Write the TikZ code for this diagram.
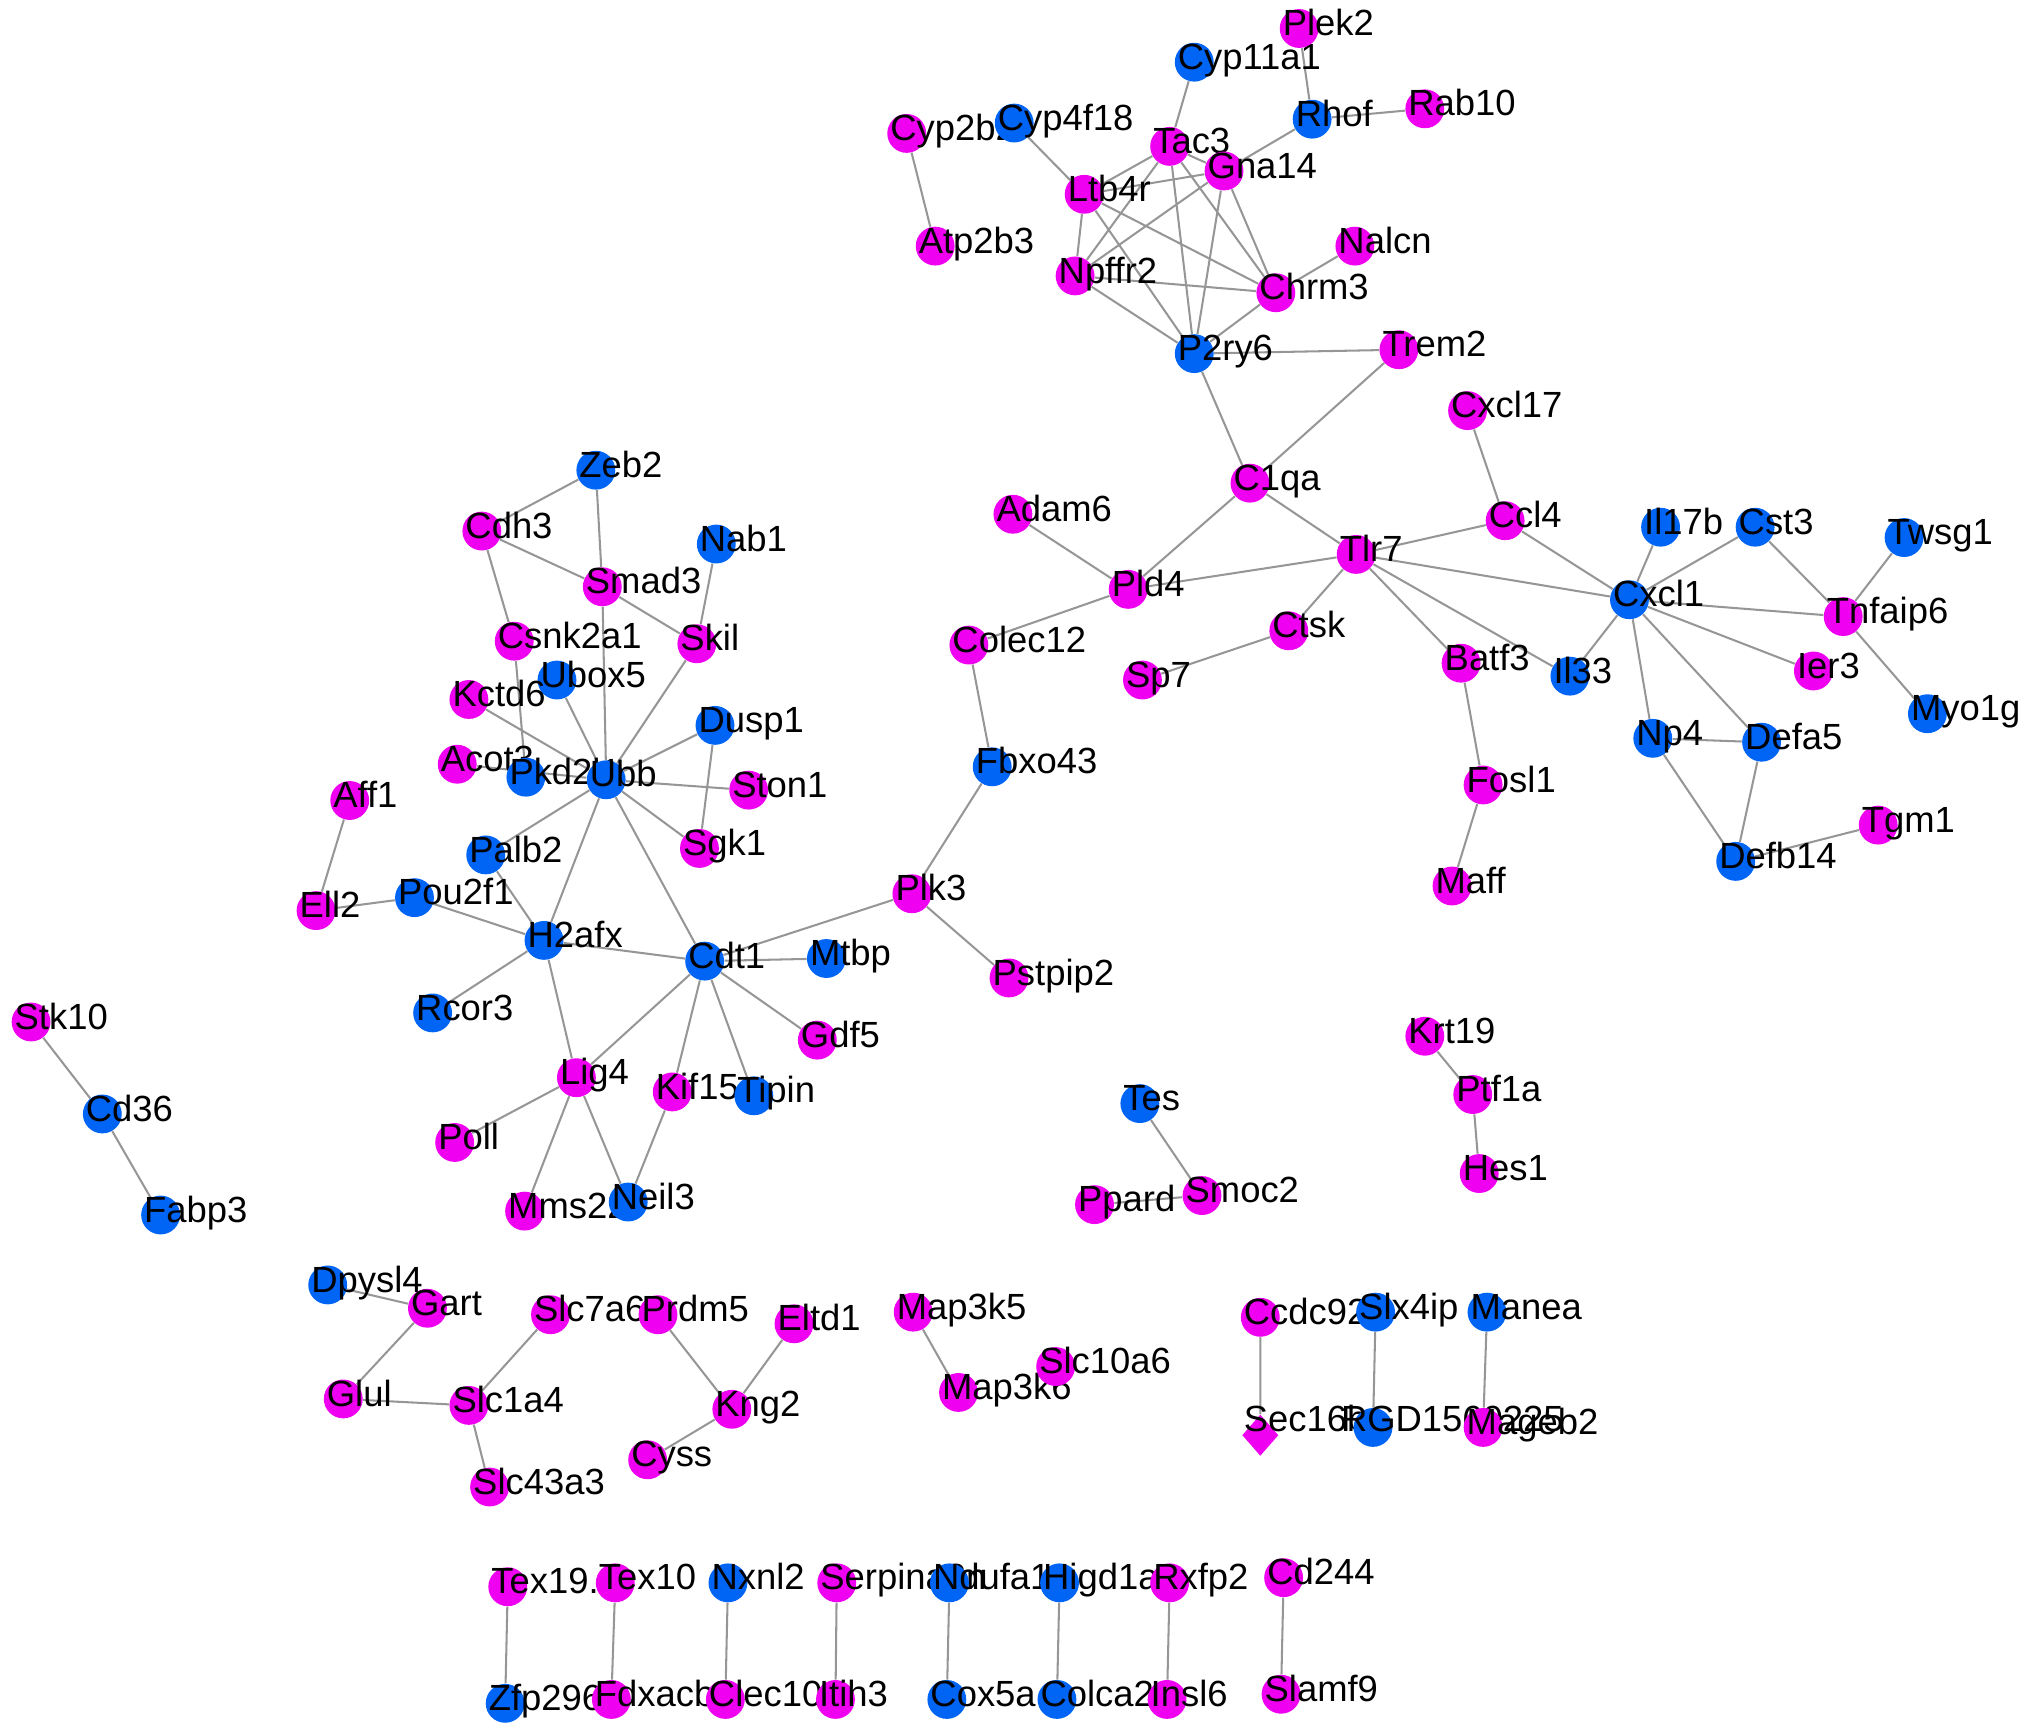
\documentclass[tikz,border=0pt]{standalone}
\usepackage{fontspec}
\setmainfont{Liberation Sans}
\usetikzlibrary{shapes.geometric}
\definecolor{mg}{RGB}{240,0,240}
\definecolor{bl}{RGB}{0,100,245}
\definecolor{ed}{RGB}{150,150,150}
\pgfdeclarelayer{bg}
\pgfsetlayers{bg,main}
\newcommand\gnd[5]{%
  \node[gnode,fill=#4] (#1) at (#2,-#3) {};
  \node[glabel] (#1-t) at (#2-13,-#3-5.5) {#5};}
\begin{document}
\begin{tikzpicture}[x=0.02cm,y=0.02cm,
  gnode/.style={circle,draw=none,minimum size=0.6cm,inner sep=0pt},
  glabel/.style={anchor=base west,inner sep=0pt,font=\fontsize{16}{18}\selectfont},
  gdiam/.style={diamond,fill=mg,draw=none,minimum width=0.56cm,minimum height=0.64cm,inner sep=0pt},
  edge/.style={draw=ed,line width=0.9pt}]
\useasboundingbox (0,0) rectangle (1568,-1340);
% top cluster
\gnd{Cyp2b2}{700}{103}{mg}{Cyp2b2}
\gnd{Atp2b3}{722}{190}{mg}{Atp2b3}
\gnd{Cyp4f18}{783}{95}{bl}{Cyp4f18}
\gnd{Npffr2}{830}{213}{mg}{Npffr2}
\gnd{Ltb4r}{837}{150}{mg}{Ltb4r}
\gnd{Tac3}{903}{113}{mg}{Tac3}
\gnd{Cyp11a1}{922}{48}{bl}{Cyp11a1}
\gnd{P2ry6}{922}{273}{bl}{P2ry6}
\gnd{Gna14}{945}{132}{mg}{Gna14}
\gnd{Chrm3}{985}{226}{mg}{Chrm3}
\gnd{Plek2}{1003}{22}{mg}{Plek2}
\gnd{Rhof}{1013}{92}{bl}{Rhof}
\gnd{Nalcn}{1046}{190}{mg}{Nalcn}
\gnd{Trem2}{1080}{270}{mg}{Trem2}
\gnd{Rab10}{1100}{84}{mg}{Rab10}
% middle right
\gnd{Colec12}{748}{498}{mg}{Colec12}
\gnd{Fbxo43}{766}{592}{bl}{Fbxo43}
\gnd{Adam6}{782}{397}{mg}{Adam6}
\gnd{Pld4}{871}{455}{mg}{Pld4}
\gnd{Sp7}{882}{525}{mg}{Sp7}
\gnd{C1qa}{965}{373}{mg}{C1qa}
\gnd{Ctsk}{995}{487}{mg}{Ctsk}
\gnd{Tlr7}{1047}{428}{mg}{Tlr7}
\gnd{Maff}{1121}{684}{mg}{Maff}
\gnd{Batf3}{1128}{512}{mg}{Batf3}
\gnd{Cxcl17}{1133}{317}{mg}{Cxcl17}
\gnd{Fosl1}{1145}{606}{mg}{Fosl1}
\gnd{Ccl4}{1162}{402}{mg}{Ccl4}
\gnd{Il33}{1212}{522}{bl}{Il33}
\gnd{Cxcl1}{1258}{463}{bl}{Cxcl1}
\gnd{Np4}{1276}{570}{bl}{Np4}
\gnd{Il17b}{1282}{407}{bl}{Il17b}
\gnd{Defb14}{1340}{665}{bl}{Defb14}
\gnd{Cst3}{1355}{407}{bl}{Cst3}
\gnd{Defa5}{1360}{573}{bl}{Defa5}
\gnd{Ier3}{1400}{518}{mg}{Ier3}
\gnd{Tnfaip6}{1423}{476}{mg}{Tnfaip6}
\gnd{Tgm1}{1450}{637}{mg}{Tgm1}
\gnd{Twsg1}{1470}{415}{bl}{Twsg1}
\gnd{Myo1g}{1488}{551}{bl}{Myo1g}
% left cluster
\gnd{Stk10}{24}{789}{mg}{Stk10}
\gnd{Cd36}{79}{860}{bl}{Cd36}
\gnd{Fabp3}{124}{938}{bl}{Fabp3}
\gnd{Ell2}{244}{703}{mg}{Ell2}
\gnd{Aff1}{270}{618}{mg}{Aff1}
\gnd{Pou2f1}{320}{693}{bl}{Pou2f1}
\gnd{Rcor3}{334}{782}{bl}{Rcor3}
\gnd{Poll}{351}{882}{mg}{Poll}
\gnd{Acot3}{353}{590}{mg}{Acot3}
\gnd{Cdh3}{372}{410}{mg}{Cdh3}
\gnd{Palb2}{375}{660}{bl}{Palb2}
\gnd{Csnk2a1}{397}{495}{mg}{Csnk2a1}
\gnd{Ubox5}{430}{525}{bl}{Ubox5}
\gnd{Kctd6}{362}{540}{mg}{Kctd6}
\gnd{Mms22l}{405}{935}{mg}{Mms22l}
\gnd{Pkd2l1}{406}{600}{bl}{Pkd2l1}
\gnd{H2afx}{420}{726}{bl}{H2afx}
\gnd{Lig4}{445}{832}{mg}{Lig4}
\gnd{Zeb2}{460}{363}{bl}{Zeb2}
\gnd{Smad3}{465}{453}{mg}{Smad3}
\gnd{Ubb}{468}{602}{bl}{Ubb}
\gnd{Neil3}{485}{928}{bl}{Neil3}
\gnd{Kif15}{519}{843}{mg}{Kif15}
\gnd{Skil}{538}{497}{mg}{Skil}
\gnd{Sgk1}{540}{655}{mg}{Sgk1}
\gnd{Cdt1}{544}{742}{bl}{Cdt1}
\gnd{Dusp1}{552}{560}{bl}{Dusp1}
\gnd{Nab1}{553}{420}{bl}{Nab1}
\gnd{Ston1}{578}{610}{mg}{Ston1}
\gnd{Tipin}{582}{846}{bl}{Tipin}
\gnd{Gdf5}{631}{803}{mg}{Gdf5}
\gnd{Mtbp}{638}{740}{bl}{Mtbp}
\gnd{Plk3}{704}{690}{mg}{Plk3}
\gnd{Pstpip2}{779}{755}{mg}{Pstpip2}
% small groups
\gnd{Ppard}{845}{930}{mg}{Ppard}
\gnd{Tes}{880}{852}{bl}{Tes}
\gnd{Smoc2}{928}{923}{mg}{Smoc2}
\gnd{Krt19}{1100}{800}{mg}{Krt19}
\gnd{Ptf1a}{1137}{845}{mg}{Ptf1a}
\gnd{Hes1}{1142}{906}{mg}{Hes1}
% bottom
\gnd{Dpysl4}{253}{992}{bl}{Dpysl4}
\gnd{Glul}{265}{1080}{mg}{Glul}
\gnd{Gart}{330}{1010}{mg}{Gart}
\gnd{Slc1a4}{362}{1085}{mg}{Slc1a4}
\gnd{Slc43a3}{378}{1148}{mg}{Slc43a3}
\gnd{Slc7a6}{425}{1015}{mg}{Slc7a6}
\gnd{Cyss}{500}{1127}{mg}{Cyss}
\gnd{Prdm5}{508}{1015}{mg}{Prdm5}
\gnd{Kng2}{565}{1088}{mg}{Kng2}
\gnd{Eltd1}{613}{1022}{mg}{Eltd1}
\gnd{Map3k5}{705}{1013}{mg}{Map3k5}
\gnd{Map3k6}{740}{1075}{mg}{Map3k6}
\gnd{Slc10a6}{815}{1055}{mg}{Slc10a6}
\gnd{Ccdc92}{973}{1017}{mg}{Ccdc92}
\node[gdiam] (Sec16b) at (973,-1108) {};
\node[glabel] (Sec16b-t) at (960,-1105.5) {Sec16b};
\node[gnode,fill=bl] (RGD1560225) at (1060,-1102) {};
\node[glabel] (RGD1560225-t) at (1035,-1105.5) {RGD1560225};
\gnd{Slx4ip}{1062}{1013}{bl}{Slx4ip}
\gnd{Manea}{1148}{1013}{bl}{Manea}
\gnd{Mageb2}{1145}{1102}{mg}{Mageb2}
% bottom row
\gnd{Tex191}{392}{1225}{mg}{Tex19.1}
\gnd{Zfp296}{390}{1315}{bl}{Zfp296}
\gnd{Tex10}{475}{1222}{mg}{Tex10}
\gnd{Fdxacb1}{472}{1312}{mg}{Fdxacb1}
\gnd{Nxnl2}{562}{1222}{bl}{Nxnl2}
\gnd{Clec10a}{560}{1312}{mg}{Clec10a}
\gnd{Serpina3n}{646}{1222}{mg}{Serpina3n}
\gnd{Itih3}{645}{1312}{mg}{Itih3}
\gnd{Ndufa11}{733}{1222}{bl}{Ndufa11}
\gnd{Cox5a}{731}{1312}{bl}{Cox5a}
\gnd{Higd1a}{818}{1222}{bl}{Higd1a}
\gnd{Colca2}{816}{1312}{bl}{Colca2}
\gnd{Rxfp2}{903}{1222}{mg}{Rxfp2}
\gnd{Insl6}{901}{1312}{mg}{Insl6}
\gnd{Cd244}{991}{1218}{mg}{Cd244}
\gnd{Slamf9}{989}{1308}{mg}{Slamf9}
\begin{pgfonlayer}{bg}
\draw[edge]
 (Plek2)--(Rhof) (Rhof)--(Rab10) (Rhof)--(Gna14) (Cyp11a1)--(Tac3)
 (Cyp2b2)--(Atp2b3) (Cyp4f18)--(Ltb4r) (Tac3)--(Ltb4r) (Tac3)--(Gna14)
 (Ltb4r)--(Gna14) (Tac3)--(Npffr2) (Tac3)--(P2ry6) (Tac3)--(Chrm3)
 (Gna14)--(Npffr2) (Gna14)--(P2ry6) (Gna14)--(Chrm3) (Ltb4r)--(Npffr2)
 (Ltb4r)--(P2ry6) (Ltb4r)--(Chrm3) (Npffr2)--(Chrm3) (Npffr2)--(P2ry6)
 (Chrm3)--(P2ry6) (Chrm3)--(Nalcn) (P2ry6)--(Trem2) (P2ry6)--(C1qa)
 (Trem2)--(C1qa)
 (C1qa)--(Pld4) (C1qa)--(Tlr7) (Adam6)--(Pld4) (Pld4)--(Colec12)
 (Pld4)--(Tlr7) (Colec12)--(Fbxo43) (Fbxo43)--(Plk3) (Plk3)--(Pstpip2)
 (Plk3)--(Cdt1) (Ctsk)--(Sp7) (Ctsk)--(Tlr7) (Tlr7)--(Ccl4) (Tlr7)--(Cxcl1)
 (Tlr7)--(Batf3) (Tlr7)--(Il33) (Cxcl17)--(Ccl4) (Ccl4)--(Cxcl1)
 (Batf3)--(Fosl1) (Fosl1)--(Maff) (Cxcl1)--(Il17b) (Cxcl1)--(Cst3)
 (Cxcl1)--(Tnfaip6) (Cxcl1)--(Ier3) (Cxcl1)--(Il33) (Cxcl1)--(Np4)
 (Cxcl1)--(Defa5) (Cst3)--(Tnfaip6) (Twsg1)--(Tnfaip6) (Tnfaip6)--(Myo1g)
 (Np4)--(Defa5) (Np4)--(Defb14) (Defa5)--(Defb14) (Defb14)--(Tgm1)
 (Zeb2)--(Cdh3) (Zeb2)--(Smad3) (Cdh3)--(Smad3) (Cdh3)--(Csnk2a1)
 (Smad3)--(Skil) (Smad3)--(Ubb) (Nab1)--(Skil) (Skil)--(Ubb)
 (Csnk2a1)--(Pkd2l1) (Ubox5)--(Ubb) (Kctd6)--(Ubb) (Acot3)--(Ubb)
 (Dusp1)--(Ubb) (Dusp1)--(Sgk1) (Ubb)--(Ston1) (Ubb)--(Sgk1) (Ubb)--(Palb2)
 (Ubb)--(H2afx) (Ubb)--(Cdt1) (Palb2)--(H2afx) (Pou2f1)--(H2afx)
 (Ell2)--(Pou2f1) (Aff1)--(Ell2) (H2afx)--(Cdt1) (H2afx)--(Rcor3)
 (H2afx)--(Lig4) (Cdt1)--(Mtbp) (Cdt1)--(Lig4) (Cdt1)--(Kif15)
 (Cdt1)--(Tipin) (Cdt1)--(Gdf5) (Lig4)--(Poll) (Lig4)--(Mms22l)
 (Lig4)--(Neil3) (Kif15)--(Neil3) (Stk10)--(Cd36) (Cd36)--(Fabp3)
 (Krt19)--(Ptf1a) (Ptf1a)--(Hes1) (Tes)--(Smoc2) (Ppard)--(Smoc2)
 (Dpysl4)--(Gart) (Gart)--(Glul) (Glul)--(Slc1a4) (Slc1a4)--(Slc7a6)
 (Slc1a4)--(Slc43a3) (Prdm5)--(Kng2) (Eltd1)--(Kng2) (Kng2)--(Cyss)
 (Map3k5)--(Map3k6) (Ccdc92)--(Sec16b) (Slx4ip)--(RGD1560225) (Manea)--(Mageb2)
 (Tex191)--(Zfp296) (Tex10)--(Fdxacb1) (Nxnl2)--(Clec10a) (Serpina3n)--(Itih3)
 (Ndufa11)--(Cox5a) (Higd1a)--(Colca2) (Rxfp2)--(Insl6) (Cd244)--(Slamf9);
\end{pgfonlayer}
\end{tikzpicture}
\end{document}
